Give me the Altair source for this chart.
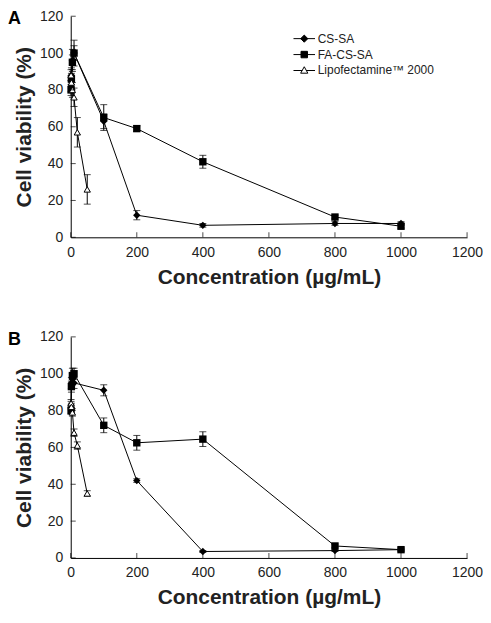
import altair as alt
import pandas as pd

SERIES = ["CS-SA", "FA-CS-SA", "Lipofectamine™ 2000"]
CONC = [1, 2, 5, 10, 100, 200, 400, 800, 1000]
LIPO_CONC = [1, 2, 5, 10, 20, 50]
X_TICKS = [0, 200, 400, 600, 800, 1000, 1200]
Y_TICKS = [0, 20, 40, 60, 80, 100, 120]

A_CS = [82, 88, 96, 100, 63, 12, 6.5, 7.5, 7.5]
A_CS_ERR = [3, 4, 6, 7, 4, 2.5, 1, 1, 1]
A_FA = [80, 86, 95, 100, 65, 59, 41, 11, 6]
A_FA_ERR = [3, 3, 4, 4, 7, 1.5, 3.5, 1, 1]
A_LIPO = [88, 84, 80, 76, 57, 26]
A_LIPO_ERR = [3, 3, 4, 5, 8, 8]

B_CS = [83, 95, 97, 95, 91, 42, 3.5, 4, 4.5]
B_CS_ERR = [2, 3, 3, 3, 3, 1, 0.5, 0.5, 0.5]
B_FA = [80, 93, 99, 100, 72, 62.5, 64.5, 6.5, 4.5]
B_FA_ERR = [2, 3, 4, 3, 4, 4, 4, 1, 1]
B_LIPO = [84, 82, 79, 68, 61, 35]
B_LIPO_ERR = [2, 2, 2, 2, 2, 1.5]

FONT = "Liberation Sans"

LEGEND_SHAPES = [
    "M-1.2,0H1.2M0,-0.4L0.4,0L0,0.4L-0.4,0Z",
    "M-1.2,0H1.2M-0.36,-0.36H0.36V0.36H-0.36Z",
    "M-1.2,0H-0.22M0.22,0H1.2M0,-0.42L0.4,0.3L-0.4,0.3Z",
]


def make_df(cs, cs_err, fa, fa_err, lipo, lipo_err):
    rows = []
    for c, v, e in zip(CONC, cs, cs_err):
        rows.append({"series": SERIES[0], "conc": c, "value": v, "err": e})
    for c, v, e in zip(CONC, fa, fa_err):
        rows.append({"series": SERIES[1], "conc": c, "value": v, "err": e})
    for c, v, e in zip(LIPO_CONC, lipo, lipo_err):
        rows.append({"series": SERIES[2], "conc": c, "value": v, "err": e})
    return pd.DataFrame(rows)


def xenc(field="conc:Q"):
    return alt.X(
        field,
        scale=alt.Scale(domain=[0, 1200], nice=False),
        axis=alt.Axis(values=X_TICKS, format="d", title="Concentration (µg/mL)", grid=False,
                      ticks=False, tickSize=0, labelPadding=8, labelFlush=False),
    )


def yenc(field):
    return alt.Y(
        field,
        scale=alt.Scale(domain=[0, 120], nice=False),
        axis=alt.Axis(values=Y_TICKS, format="d", title="Cell viability (%)", grid=False,
                      ticks=False, tickSize=0, labelPadding=8, labelFlush=False),
    )


def panel(df, letter, legend_y):
    base = alt.Chart(df).transform_calculate(
        lo="datum.value - datum.err", hi="datum.value + datum.err"
    )
    lines = base.mark_line(color="black", strokeWidth=1).encode(
        x=xenc(), y=yenc("value:Q"), detail="series:N", order="conc:Q"
    )
    rules = base.mark_rule(color="black", strokeWidth=1).encode(
        x=xenc(), y=yenc("lo:Q"), y2="hi:Q"
    )
    cap_lo = base.mark_tick(orient="horizontal", size=7, thickness=1, color="black").encode(
        x=xenc(), y=yenc("lo:Q")
    )
    cap_hi = base.mark_tick(orient="horizontal", size=7, thickness=1, color="black").encode(
        x=xenc(), y=yenc("hi:Q")
    )
    pts_cs = base.transform_filter(alt.datum.series == SERIES[0]).mark_point(
        shape="diamond", filled=True, color="black", size=55, opacity=1
    ).encode(x=xenc(), y=yenc("value:Q"))
    pts_fa = base.transform_filter(alt.datum.series == SERIES[1]).mark_point(
        shape="square", filled=True, color="black", size=55, opacity=1
    ).encode(x=xenc(), y=yenc("value:Q"))
    pts_li = base.transform_filter(alt.datum.series == SERIES[2]).mark_point(
        shape="triangle-up", filled=True, fill="white", stroke="black", strokeWidth=1, size=40, opacity=1
    ).encode(x=xenc(), y=yenc("value:Q"))

    # inward axis ticks
    xt = alt.Chart(pd.DataFrame({"t": X_TICKS, "z": [0] * len(X_TICKS)})).mark_tick(
        orient="vertical", size=5, thickness=1, color="black", yOffset=-2.5
    ).encode(x=xenc("t:Q"), y=yenc("z:Q"))
    yt = alt.Chart(pd.DataFrame({"t": Y_TICKS, "z": [0] * len(Y_TICKS)})).mark_tick(
        orient="horizontal", size=5, thickness=1, color="black", xOffset=2.5
    ).encode(x=xenc("z:Q"), y=yenc("t:Q"))

    leg = alt.Legend(
        title=None,
        orient="none",
        legendX=225,
        legendY=legend_y,
        symbolSize=324,
        symbolStrokeWidth=1,
        symbolStrokeColor="black",
        symbolOpacity=1,
        labelFontSize=12,
        labelFont=FONT,
        labelColor="#222",
        rowPadding=0,
        labelOffset=4,
        padding=0,
    )
    legend_layer = base.mark_point(
        opacity=0, filled=True, stroke="black", strokeWidth=1
    ).encode(
        x=xenc(),
        y=yenc("value:Q"),
        shape=alt.Shape("series:N", scale=alt.Scale(domain=SERIES, range=LEGEND_SHAPES), legend=leg),
        fill=alt.Fill("series:N", scale=alt.Scale(domain=SERIES, range=["black", "black", "white"]), legend=leg),
        stroke=alt.Stroke("series:N", scale=alt.Scale(domain=SERIES, range=["black", "black", "black"]), legend=leg),
    )
    label = alt.Chart(pd.DataFrame({"t": [letter]})).mark_text(
        align="left", baseline="top", fontSize=18, fontWeight="bold", font=FONT, color="black"
    ).encode(x=alt.value(-63), y=alt.value(-6), text="t:N")
    return alt.layer(
        lines, rules, cap_lo, cap_hi, pts_cs, pts_fa, pts_li, xt, yt, legend_layer, label
    ).properties(width=398, height=222)


dfA = make_df(A_CS, A_CS_ERR, A_FA, A_FA_ERR, A_LIPO, A_LIPO_ERR)
dfB = make_df(B_CS, B_CS_ERR, B_FA, B_FA_ERR, B_LIPO, B_LIPO_ERR)

chart = alt.vconcat(panel(dfA, "A", 13), panel(dfB, "B", 18), spacing=43).configure_view(
    stroke=None
).configure_axis(
    labelFont=FONT,
    labelFontSize=14,
    labelColor="#222",
    titleFont=FONT,
    titleFontSize=21,
    titleFontWeight="bold",
    titleColor="#222",
    domainColor="black",
).configure_axisY(
    titlePadding=5,
).configure_axisX(
    titlePadding=7,
).properties(
    padding={"left": 0, "top": 0, "right": 0, "bottom": 0}
)

chart.save("out.html", embed_options={"renderer": "svg", "actions": False})
